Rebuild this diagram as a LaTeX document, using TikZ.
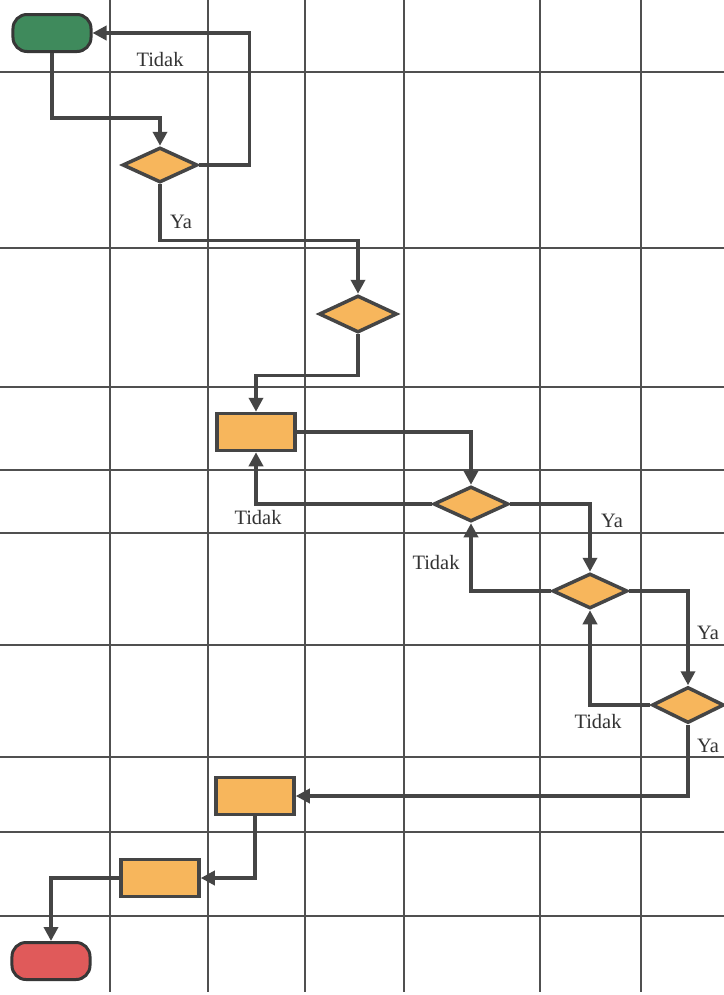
\documentclass[tikz,border=0pt]{standalone}
\usepackage{fontspec}
\setmainfont{Liberation Serif}
\usetikzlibrary{arrows.meta,shapes.geometric}
\definecolor{linec}{HTML}{454545}
\definecolor{gridc}{HTML}{505050}
\definecolor{orangef}{HTML}{F7B65C}
\definecolor{greenf}{HTML}{3F8A5C}
\definecolor{redf}{HTML}{E05A5A}
\tikzset{
  gridline/.style={draw=gridc,line width=1.1bp},
  conn/.style={draw=linec,line width=3.5bp,-{Triangle[length=14bp,width=14bp]}},
  decision/.style={diamond,draw=linec,line width=3.5bp,fill=orangef,minimum width=75bp,minimum height=35bp,inner sep=0pt},
  process/.style={rectangle,draw=linec,line width=3.5bp,fill=orangef,minimum width=78bp,minimum height=37bp,inner sep=0pt},
  terminal/.style={rectangle,rounded corners=14bp,draw=linec!80!black,line width=3bp,minimum width=78bp,minimum height=37bp,inner sep=0pt},
  lbl/.style={text=black!80,font=\fontsize{20.5}{22}\selectfont,inner sep=0pt}
}
\begin{document}
\begin{tikzpicture}[x=1bp,y=-1bp]
\useasboundingbox (0,0) rectangle (724,995);
\fill[white] (0,0) rectangle (724,995);
% grid
\foreach \gx in {110,208,305,404,540,641} \draw[gridline] (\gx,0) -- (\gx,992);
\foreach \gy in {72,248,387,470,533,645,757,832,916} \draw[gridline] (0,\gy) -- (724,\gy);
% nodes
\node[terminal,fill=greenf] (start) at (52,33) {};
\node[decision] (d1) at (160,165) {};
\node[decision,minimum width=78bp,minimum height=37bp] (d2) at (358,314) {};
\node[process] (r1) at (256,432) {};
\node[decision] (d3) at (471,504) {};
\node[decision] (d4) at (590,591) {};
\node[decision,minimum width=72bp,minimum height=36bp] (d5) at (688,705) {};
\node[process] (r2) at (255,796) {};
\node[process] (r3) at (160,878) {};
\node[terminal,fill=redf] (end) at (51,961) {};
% connectors
\draw[conn] (start.south) -- ++(0,65) -| (d1.north);
\draw[conn] (d1.east) -- ++(50,0) |- (start.east);
\draw[conn] (d1.south) -- ++(0,56) -| (d2.north);
\draw[conn] (d2.south) -- ++(0,41) -| (r1.north);
\draw[conn] (r1.east) -| (d3.north);
\draw[conn] (d3.west) -| (r1.south);
\draw[conn] (d3.east) -| (d4.north);
\draw[conn] (d4.west) -| (d3.south);
\draw[conn] (d4.east) -| (d5.north);
\draw[conn] (d5.west) -| (d4.south);
\draw[conn] (d5.south) |- (r2.east);
\draw[conn] (r2.south) |- (r3.east);
\draw[conn] (r3.west) -| (end.north);
% labels
\node[lbl] (t1) at (160,60) {Tidak};
\node[lbl] (y1) at (181,222) {Ya};
\node[lbl] (t2) at (258,518) {Tidak};
\node[lbl] (y2) at (612,521) {Ya};
\node[lbl] (t3) at (436,563) {Tidak};
\node[lbl] (y3) at (708,633) {Ya};
\node[lbl] (t4) at (598,722) {Tidak};
\node[lbl] (y4) at (708,746) {Ya};
\end{tikzpicture}
\end{document}
